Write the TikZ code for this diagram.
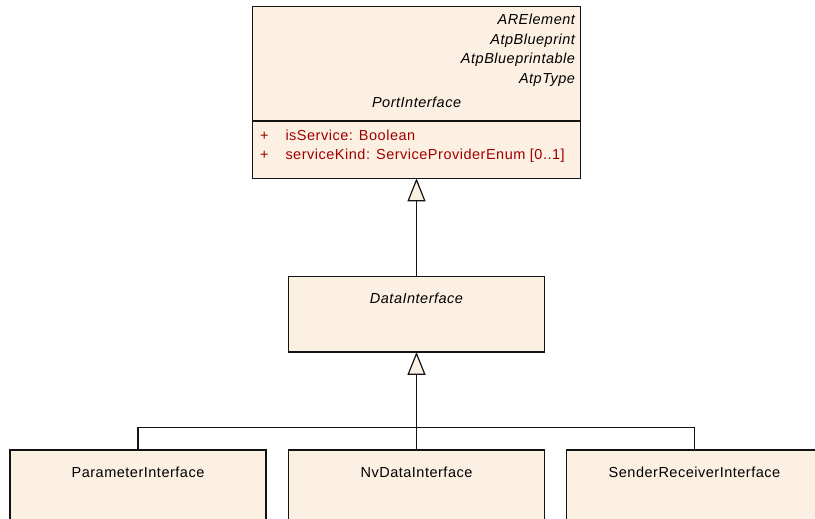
\documentclass[tikz,border=0pt]{standalone}
\usepackage{fontspec}
\setmainfont{Liberation Sans}[LetterSpace=3.5]
\usetikzlibrary{arrows.meta}
\definecolor{boxfill}{RGB}{251,240,226}
\definecolor{attrred}{RGB}{160,0,0}
\definecolor{edge}{RGB}{20,20,20}
\tikzset{
  umlbox/.style={draw=edge, fill=boxfill, line width=1.2pt, rectangle, inner sep=0pt, outer sep=0pt},
  lbl/.style={inner sep=0pt, outer sep=0pt, font=\fontsize{14.5}{17}\selectfont, text=black},
  ilbl/.style={lbl, font=\fontsize{14.5}{17}\selectfont\itshape},
  attr/.style={lbl, text=attrred},
  gen/.style={draw=edge, line width=1.2pt, -{Triangle[length=23pt,width=18pt,fill=boxfill]}},
  conn/.style={draw=edge, line width=1.2pt}
}
\begin{document}
\begin{tikzpicture}[x=1pt,y=-1pt]
\clip (0,0) rectangle (815,519);
\fill[white] (0,0) rectangle (815,519);
% PortInterface
\node[umlbox, minimum width=328pt, minimum height=171.6pt] (port) at (416.6,92.5) {};
\draw[conn] (port.west |- 0,121) -- (port.east |- 0,121);
\node[ilbl, anchor=base east] (st1) at (575,25) {ARElement};
\node[ilbl, anchor=base east] (st2) at (575,44.5) {AtpBlueprint};
\node[ilbl, anchor=base east] (st3) at (575,64) {AtpBlueprintable};
\node[ilbl, anchor=base east] (st4) at (575,83.3) {AtpType};
\node[ilbl, anchor=base] (portname) at (416.6,107.7) {PortInterface};
\node[attr, anchor=base west] (p1) at (260,140) {+};
\node[attr, anchor=base west] (a1) at (285.5,140) {isService: Boolean};
\node[attr, anchor=base west] (p2) at (260,160) {+};
\node[attr, anchor=base west] (a2) at (285.5,160) {serviceKind: ServiceProviderEnum [0..1]};
% DataInterface
\node[umlbox, minimum width=256pt, minimum height=75.2pt] (data) at (416.5,314.3) {};
\node[ilbl, anchor=base] (dataname) at (416.5,303.3) {DataInterface};
% children
\node[umlbox, minimum width=256pt, minimum height=80pt] (param) at (138,490) {};
\node[umlbox, minimum width=256pt, minimum height=80pt] (nv) at (416.5,490) {};
\node[umlbox, minimum width=256pt, minimum height=80pt] (sr) at (694.5,490) {};
\node[lbl, anchor=base] (paramname) at (138,477.3) {ParameterInterface};
\node[lbl, anchor=base] (nvname) at (416.5,477.3) {NvDataInterface};
\node[lbl, anchor=base] (srname) at (694.5,477.3) {SenderReceiverInterface};
% connectors
\draw[gen] (data.north) -- (data.north |- port.south);
\coordinate (join) at (416.5,427.5);
\draw[conn] (param.north) |- (join) -| (sr.north);
\draw[gen] (nv.north) -- (data.south);
\end{tikzpicture}
\end{document}
